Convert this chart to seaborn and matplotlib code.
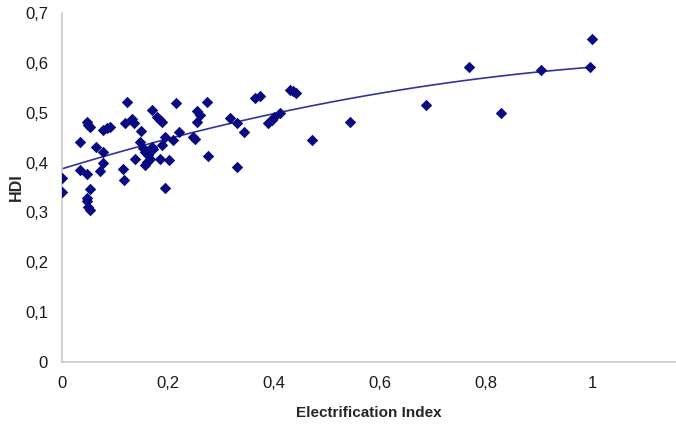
import numpy as np
import pandas as pd
import matplotlib
matplotlib.use('Agg')
import matplotlib.pyplot as plt
from matplotlib.ticker import FuncFormatter, MultipleLocator
import seaborn as sns

# Electrification index vs HDI
elec_index = [0.000, 0.000, 0.034, 0.034, 0.047, 0.050, 0.052, 0.048, 0.052, 0.047,
              0.048, 0.050, 0.053, 0.065, 0.072, 0.077, 0.078, 0.078, 0.084, 0.091,
              0.116, 0.117, 0.122, 0.119, 0.133, 0.135, 0.138, 0.147, 0.150, 0.152,
              0.157, 0.157, 0.160, 0.163, 0.166, 0.169, 0.172, 0.169, 0.179, 0.184,
              0.188, 0.185, 0.201, 0.188, 0.194, 0.210, 0.194, 0.215, 0.221, 0.247,
              0.251, 0.254, 0.260, 0.255, 0.274, 0.276, 0.317, 0.330, 0.343, 0.331,
              0.364, 0.374, 0.389, 0.396, 0.400, 0.411, 0.430, 0.435, 0.442, 0.472,
              0.543, 0.686, 0.768, 0.829, 0.904, 0.996, 1.000]
hdi = [0.370, 0.341, 0.441, 0.385, 0.482, 0.475, 0.471, 0.378, 0.347, 0.328,
       0.322, 0.311, 0.305, 0.432, 0.383, 0.400, 0.422, 0.465, 0.469, 0.471,
       0.388, 0.365, 0.521, 0.479, 0.487, 0.479, 0.408, 0.442, 0.464, 0.429,
       0.422, 0.395, 0.402, 0.415, 0.408, 0.432, 0.427, 0.505, 0.491, 0.485,
       0.482, 0.408, 0.406, 0.435, 0.452, 0.445, 0.348, 0.519, 0.462, 0.452,
       0.447, 0.504, 0.495, 0.482, 0.521, 0.413, 0.490, 0.479, 0.462, 0.392,
       0.529, 0.533, 0.479, 0.485, 0.492, 0.499, 0.546, 0.544, 0.540, 0.445,
       0.481, 0.516, 0.592, 0.500, 0.586, 0.591, 0.648]

df = pd.DataFrame({'Electrification Index': elec_index, 'HDI': hdi})

sns.set_style('white')
plt.rcParams['font.family'] = ['Liberation Sans', 'DejaVu Sans']

fig = plt.figure(figsize=(6.76, 4.30), dpi=100)
ax = fig.add_axes([0.0917, 0.158, 0.908, 0.812])

navy = '#0a0a80'
# 2nd order polynomial trendline, as in the original spreadsheet chart
sns.regplot(data=df, x='Electrification Index', y='HDI', order=2, ci=None,
            scatter=False, ax=ax, line_kws={'color': '#33339a', 'lw': 1.2})
sns.scatterplot(data=df, x='Electrification Index', y='HDI', marker='D', s=34,
                color=navy, edgecolor=navy, linewidth=0, ax=ax, zorder=3)

ax.set_xlim(0, 1.158)
ax.set_ylim(0, 0.7)
ax.xaxis.set_major_locator(MultipleLocator(0.2))
ax.yaxis.set_major_locator(MultipleLocator(0.1))
fmt = FuncFormatter(lambda v, p: ('%g' % round(v, 2)).replace('.', ','))
ax.xaxis.set_major_formatter(fmt)
ax.yaxis.set_major_formatter(fmt)

for s in ['top', 'right']:
    ax.spines[s].set_visible(False)
for s in ['left', 'bottom']:
    ax.spines[s].set_color('#c8c8c8')
    ax.spines[s].set_linewidth(1.2)
ax.tick_params(axis='both', colors='#c8c8c8', labelcolor='#1a1a1a',
               labelsize=12, length=4, width=1)
ax.tick_params(axis='x', direction='inout', pad=8)
ax.tick_params(axis='y', direction='out', pad=6)

ax.set_xlabel('Electrification Index', fontsize=11, fontweight='bold', labelpad=11)
ax.set_ylabel('HDI', fontsize=11.5, fontweight='bold')
ax.yaxis.set_label_coords(-0.062, 0.5)

fig.savefig('out.png', dpi=100)
